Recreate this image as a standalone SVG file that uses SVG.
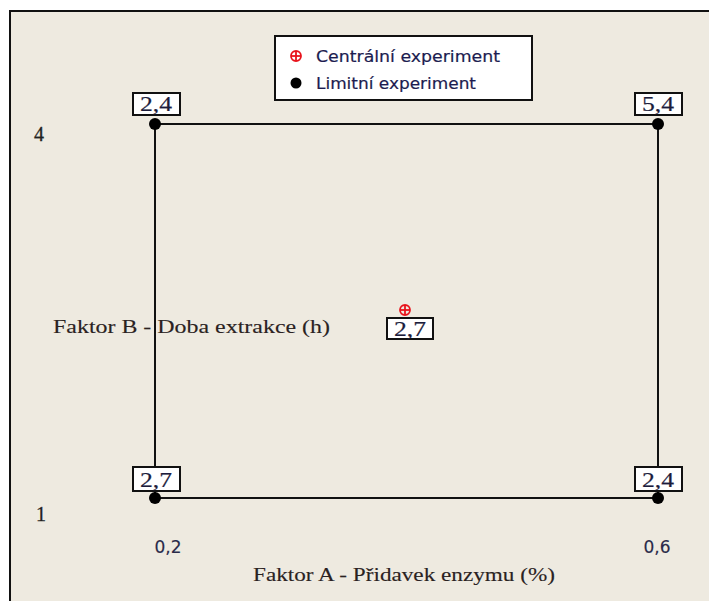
<svg xmlns="http://www.w3.org/2000/svg" width="709" height="601" viewBox="0 0 709 601">
  <style>
    .frame { fill: #eeeae0; stroke: #111; stroke-width: 2; }
    .edge { stroke: #111; stroke-width: 2; fill: none; }
    .dot { fill: #000; }
    .tag { fill: #fff; stroke: #111; stroke-width: 2; }
    .val { font-family: "Liberation Serif", serif; font-size: 21px; fill: #1c1c3c; stroke: #1c1c3c; stroke-width: 0.2; text-anchor: middle; }
    .tick { font-family: "Liberation Serif", serif; font-size: 20px; fill: #222; stroke: #222; stroke-width: 0.3; }
    .tickx { font-family: "DejaVu Sans", sans-serif; font-size: 17px; fill: #2a2a4a; stroke: #2a2a4a; stroke-width: 0.15; text-anchor: middle; }
    .axis { font-family: "Liberation Serif", serif; font-size: 19px; fill: #2a2222; stroke: #2a2222; stroke-width: 0.12; }
    .legend { font-family: "DejaVu Sans", sans-serif; font-size: 16px; fill: #1c1c50; stroke: #1c1c50; stroke-width: 0.2; }
    .centre { fill: none; stroke: #e8141c; stroke-width: 1.8; }
  </style>
  <defs>
    <g id="centre-mark">
      <circle class="centre" r="5"/>
      <line class="centre" x1="-5" y1="0" x2="5" y2="0"/>
      <line class="centre" x1="0" y1="-5" x2="0" y2="5"/>
    </g>
  </defs>

  <rect width="709" height="601" fill="#fff"/>
  <rect class="frame" x="10" y="11" width="705" height="600"/>

  <!-- axis annotations -->
  <text class="tick" x="34" y="141">4</text>
  <text class="tick" x="36" y="521">1</text>
  <text class="tickx" x="168" y="553">0,2</text>
  <text class="tickx" x="657" y="553">0,6</text>
  <text class="axis" x="253" y="581" textLength="302" lengthAdjust="spacingAndGlyphs">Faktor A - Přidavek enzymu (%)</text>

  <!-- design square edges -->
  <g id="connectors">
    <line class="edge" x1="155" y1="124" x2="658" y2="124"/>
    <line class="edge" x1="155" y1="498" x2="658" y2="498"/>
    <line class="edge" x1="155" y1="124" x2="155" y2="498"/>
    <line class="edge" x1="658" y1="124" x2="658" y2="498"/>
  </g>

  <text class="axis" x="53" y="333" textLength="277" lengthAdjust="spacingAndGlyphs">Faktor B - Doba extrakce (h)</text>

  <!-- legend -->
  <g id="legend">
    <rect x="275" y="36" width="257" height="64" fill="#fff" stroke="#111" stroke-width="2"/>
    <use href="#centre-mark" x="296" y="56"/>
    <text class="legend" x="316" y="62" textLength="184" lengthAdjust="spacingAndGlyphs">Centrální experiment</text>
    <circle class="dot" cx="296" cy="83" r="5.5"/>
    <text class="legend" x="316" y="89" textLength="160" lengthAdjust="spacingAndGlyphs">Limitní experiment</text>
  </g>

  <!-- corner experiments -->
  <g id="point-a0-b1">
    <rect class="tag" x="133" y="93" width="47" height="22"/>
    <text class="val" x="156" y="111" textLength="32" lengthAdjust="spacingAndGlyphs">2,4</text>
    <circle class="dot" cx="155" cy="124" r="6"/>
  </g>
  <g id="point-a1-b1">
    <rect class="tag" x="635" y="93" width="47" height="22"/>
    <text class="val" x="658" y="111" textLength="32" lengthAdjust="spacingAndGlyphs">5,4</text>
    <circle class="dot" cx="658" cy="124" r="6"/>
  </g>
  <g id="point-a0-b0">
    <rect class="tag" x="133" y="467" width="47" height="24"/>
    <text class="val" x="156" y="487" textLength="32" lengthAdjust="spacingAndGlyphs">2,7</text>
    <circle class="dot" cx="155" cy="498" r="6"/>
  </g>
  <g id="point-a1-b0">
    <rect class="tag" x="635" y="467" width="47" height="24"/>
    <text class="val" x="658" y="487" textLength="32" lengthAdjust="spacingAndGlyphs">2,4</text>
    <circle class="dot" cx="658" cy="498" r="6"/>
  </g>

  <!-- centre point -->
  <g id="point-centre">
    <use href="#centre-mark" x="405" y="310"/>
    <rect class="tag" x="387" y="318" width="46" height="21"/>
    <text class="val" x="410" y="336" textLength="32" lengthAdjust="spacingAndGlyphs">2,7</text>
  </g>
</svg>
